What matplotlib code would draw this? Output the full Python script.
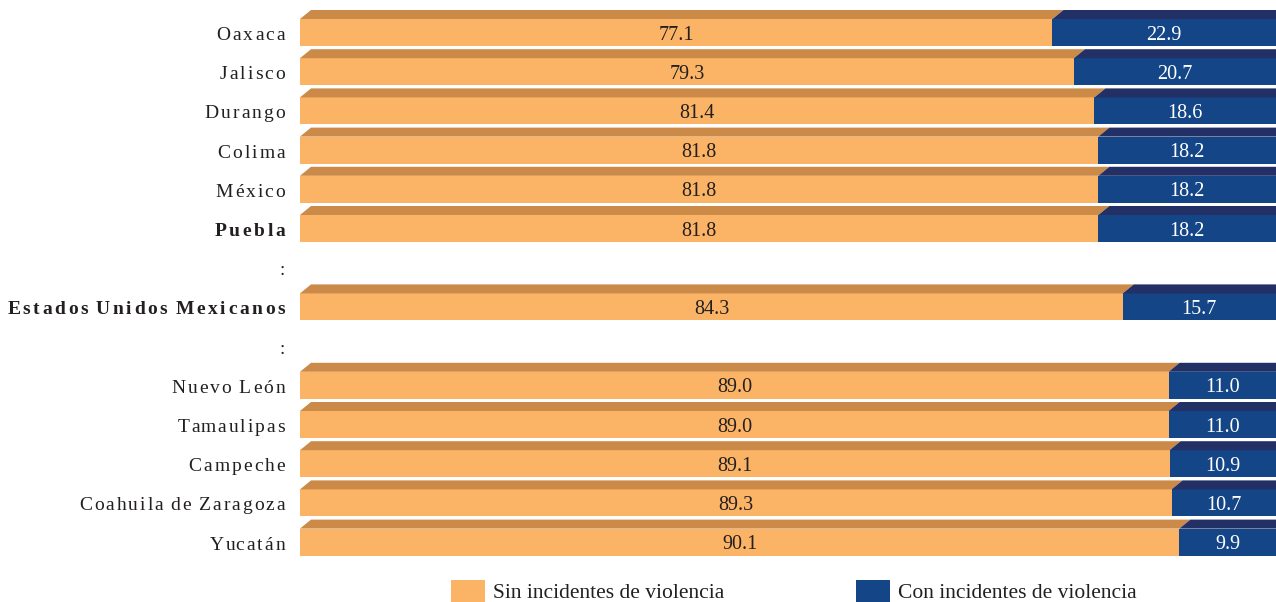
import matplotlib
matplotlib.use("Agg")
import matplotlib.pyplot as plt
from matplotlib.patches import Polygon, Rectangle
from matplotlib.font_manager import FontProperties
from matplotlib.transforms import IdentityTransform

# Porcentaje de escuelas según incidentes de violencia, por entidad
entidades = ["Oaxaca", "Jalisco", "Durango", "Colima", "México", "Puebla", ":",
             "Estados Unidos Mexicanos", ":", "Nuevo León", "Tamaulipas",
             "Campeche", "Coahuila de Zaragoza", "Yucatán"]
sin_incidentes = [77.1, 79.3, 81.4, 81.8, 81.8, 81.8, None, 84.3, None,
                  89.0, 89.0, 89.1, 89.3, 90.1]
con_incidentes = [22.9, 20.7, 18.6, 18.2, 18.2, 18.2, None, 15.7, None,
                  11.0, 11.0, 10.9, 10.7, 9.9]
destacadas = {"Puebla", "Estados Unidos Mexicanos"}
leyenda = ["Sin incidentes de violencia", "Con incidentes de violencia"]

W, H, DPI = 1276, 602, 100
ORANGE, ORANGE_TOP = "#FBB466", "#CC8A48"
BLUE, BLUE_TOP = "#144586", "#223066"
SERIF = "Liberation Serif"

fig = plt.figure(figsize=(W / DPI, H / DPI), dpi=DPI)
left_px = 300
ax = fig.add_axes([left_px / W, 0, 1 - left_px / W, 1])
ax.set_xlim(0, 100)
ax.set_ylim(H, 0)          # vertical axis in pixel rows, top to bottom
ax.axis("off")

row0, pitch = 32.5, 39.2
face_h, top_h, top_dx_px = 27, 9, 11
top_dx = top_dx_px * 100 / (W - left_px)

ys = [row0 + i * pitch for i in range(len(entidades))]

for y, a, b in zip(ys, sin_incidentes, con_incidentes):
    if a is None:
        continue
    ax.barh(y, a, height=face_h, left=0, color=ORANGE, linewidth=0)
    ax.barh(y, b, height=face_h, left=a, color=BLUE, linewidth=0)
    top = y - face_h / 2
    for x0, x1, c in [(0, a, ORANGE_TOP), (a, a + b, BLUE_TOP)]:
        ax.add_patch(Polygon([(x0, top), (x0 + top_dx, top - top_h),
                              (x1 + top_dx, top - top_h), (x1, top)],
                             closed=True, facecolor=c, edgecolor="none",
                             clip_on=False))
    ax.text(a / 2, y + 7, f"{a:.1f}", ha="center", va="baseline",
            fontsize=14.5, family=SERIF, color="#231F20")
    ax.text(a + b / 2, y + 7, f"{b:.1f}", ha="center", va="baseline",
            fontsize=14.5, family=SERIF, color="white")

# Row labels with extra letter spacing, right-aligned beside the bars
renderer = fig.canvas.get_renderer()


def text_width(s, fp):
    if not s:
        return 0.0
    return renderer.get_text_width_height_descent(s, fp, ismath=False)[0]


def spaced_label(x_right, y_base, s, spacing, fp, word_gap=0.5):
    ref = text_width("H", fp)
    offsets, extra = [], 0.0
    for i, ch in enumerate(s):
        offsets.append(text_width(s[:i] + "H", fp) - ref + extra)
        extra += word_gap if ch == " " else spacing
    total = offsets[-1] + text_width(s[-1], fp)
    x0 = x_right - total
    for ch, off in zip(s, offsets):
        if ch == " ":
            continue
        fig.text(x0 + off, H - y_base, ch, fontproperties=fp,
                 color="#231F20", ha="left", va="baseline",
                 transform=IdentityTransform())


for y, name in zip(ys, entidades):
    bold = name in destacadas
    fp = FontProperties(family=SERIF, size=14, weight="bold" if bold else "normal")
    spaced_label(285, y + 7.5, name, 2.6 if bold else 2.0, fp)

# Legend along the bottom edge
for (sx, tx), label, c in zip([(451, 493), (856, 898)], leyenda, [ORANGE, BLUE]):
    fig.add_artist(Rectangle((sx, 0), 34, 22, facecolor=c, edgecolor="none",
                             transform=IdentityTransform()))
    fig.text(tx, H - 598, label, fontsize=15.5, family=SERIF, color="#231F20",
             ha="left", va="baseline", transform=IdentityTransform())

fig.savefig("out.png", dpi=DPI)
